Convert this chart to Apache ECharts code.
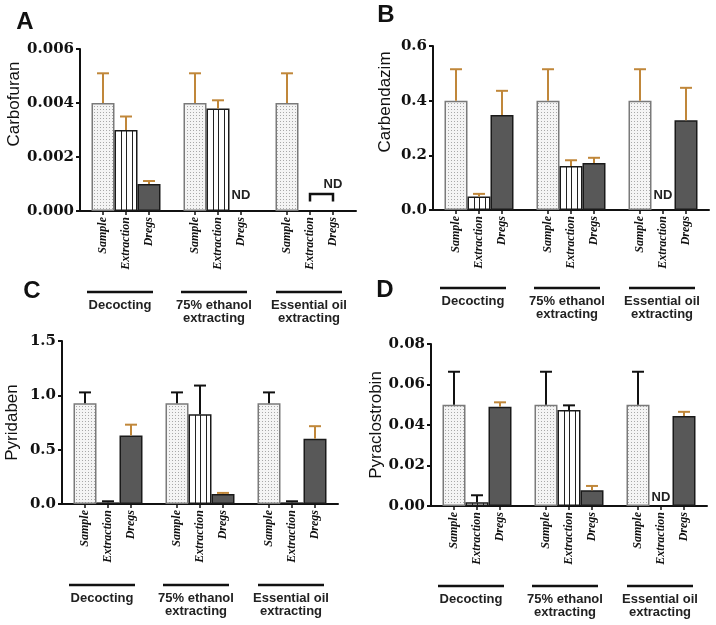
<!DOCTYPE html>
<html>
<head>
<meta charset="utf-8">
<script src="https://cdn.jsdelivr.net/npm/echarts@6/dist/echarts.min.js"></script>
<style>
  html, body { margin: 0; padding: 0; background: #fff; }
  #chart { width: 716px; height: 625px; }
</style>
</head>
<body>
<div id="chart"></div>
<script>
// x slots: blank, 3 bars, blank, 3 bars, blank, 3 bars, blank
const slotNames = ['', 'Sample', 'Extraction', 'Dregs', '', 'Sample', 'Extraction', 'Dregs', '', 'Sample', 'Extraction', 'Dregs', ''];
const groupNames = ['Decocting', '75% ethanol\nextracting', 'Essential oil\nextracting'];
const barKinds = ['Sample', 'Extraction', 'Dregs'];

// order: Sample, Extraction, Dregs for each of the 3 groups; null = ND
const carbofuranMean = [0.004, 0.003, 0.001, 0.004, 0.0038, null, 0.004, null, null];
const carbofuranErr = [0.0011, 0.0005, 0.00011, 0.0011, 0.0003, null, 0.0011, null, null];
const carbofuranErrColor = ['o', 'o', 'o', 'o', 'o', '', 'o', '', ''];

const carbendazimMean = [0.4, 0.049, 0.348, 0.4, 0.161, 0.172, 0.4, null, 0.328];
const carbendazimErr = [0.115, 0.01, 0.088, 0.115, 0.021, 0.019, 0.115, null, 0.119];
const carbendazimErrColor = ['o', 'o', 'o', 'o', 'o', 'o', 'o', '', 'o'];

const pyridabenMean = [0.927, 0.015, 0.63, 0.927, 0.826, 0.092, 0.927, 0.015, 0.60];
const pyridabenErr = [0.1, 0.01, 0.1, 0.1, 0.264, 0.01, 0.1, 0.01, 0.116];
const pyridabenErrColor = ['k', 'k', 'o', 'k', 'k', 'o', 'k', 'k', 'o'];

const pyraclostrobinMean = [0.05, 0.0018, 0.049, 0.05, 0.0474, 0.0078, 0.05, null, 0.0444];
const pyraclostrobinErr = [0.0163, 0.0035, 0.0022, 0.0163, 0.0023, 0.0021, 0.0163, null, 0.0021];
const pyraclostrobinErrColor = ['k', 'k', 'o', 'k', 'k', 'o', 'k', '', 'o'];

// "ND" notes: [slot, y value]
const carbofuranND = [[7.25, 0.00057], [10.5, 0.00097]];
const carbendazimND = [[10, 0.052]];
const pyraclostrobinND = [[10, 0.0043]];
// bracket under ND in carbofuran: [slotFrom, slotTo, yTop, yBottom]
const carbofuranBracket = [[10, 11, 0.00063, 0.00035]];

const yMax = [0.006, 0.6, 1.5, 0.08];
const yStep = [0.002, 0.2, 0.5, 0.02];
const yDigits = [3, 1, 1, 2];
const yNames = ['Carbofuran', 'Carbendazim', 'Pyridaben', 'Pyraclostrobin'];
const letters = ['A', 'B', 'C', 'D'];

const panels = [
  { left: 80,  top: 49,  height: 162, lineY: 292, lx: 25,  ly: 22,  nameGap: 55, namePad: 52 },
  { left: 433, top: 46,  height: 164, lineY: 288, lx: 386, ly: 15,  nameGap: 39, namePad: 52 },
  { left: 62,  top: 341, height: 163, lineY: 585, lx: 32,  ly: 291, nameGap: 41, namePad: 0 },
  { left: 431, top: 344, height: 162, lineY: 586, lx: 385, ly: 290, nameGap: 40, namePad: 0 }
];
const plotW = 276; // 12 slot steps of 23 px
const groupLine = [[7, 73], [101, 167], [196, 262]];

const means = [carbofuranMean, carbendazimMean, pyridabenMean, pyraclostrobinMean];
const errs = [carbofuranErr, carbendazimErr, pyridabenErr, pyraclostrobinErr];
const errColors = [carbofuranErrColor, carbendazimErrColor, pyridabenErrColor, pyraclostrobinErrColor];
const ndNotes = [carbofuranND, carbendazimND, [], pyraclostrobinND];
const brackets = [carbofuranBracket, [], [], []];

const ORANGE = '#c0873a';

function slotOf(i) { return 1 + Math.floor(i / 3) * 4 + (i % 3); }

function dotPattern() {
  const c = document.createElement('canvas');
  c.width = 3; c.height = 3;
  const g = c.getContext('2d');
  g.fillStyle = '#f4f4f4';
  g.fillRect(0, 0, 3, 3);
  g.fillStyle = '#a8a8a8';
  g.fillRect(1, 1, 1, 1);
  return c;
}
function stripePattern() {
  const c = document.createElement('canvas');
  c.width = 23; c.height = 4;
  const g = c.getContext('2d');
  g.fillStyle = '#ffffff';
  g.fillRect(0, 0, 23, 4);
  g.fillStyle = '#222222';
  [0, 6, 11, 17].forEach(x => g.fillRect(x, 0, 1, 4));
  return c;
}
const dotsImg = dotPattern();
const stripesImg = stripePattern();

let grid = [], xAxis = [], yAxis = [], series = [], graphic = [];

panels.forEach((p, k) => {
  grid.push({ left: p.left, top: p.top, width: plotW, height: p.height });
  xAxis.push({
    type: 'category', gridIndex: k, data: slotNames, boundaryGap: false,
    axisLine: { lineStyle: { color: '#111', width: 2 } },
    axisTick: { show: true, length: 4, interval: (i, v) => v !== '', lineStyle: { color: '#111', width: 1.5 } },
    axisLabel: {
      interval: 0, rotate: 90, margin: 6, color: '#111',
      fontFamily: 'Liberation Serif', fontStyle: 'italic', fontWeight: 'bold', fontSize: 12
    },
    splitLine: { show: false }
  });
  yAxis.push({
    type: 'value', gridIndex: k, min: 0, max: yMax[k], interval: yStep[k],
    name: yNames[k], nameLocation: 'middle', nameGap: p.nameGap,
    nameTextStyle: { fontFamily: 'Arial', fontSize: 17, color: '#111', padding: [0, 0, 0, p.namePad] },
    axisLine: { show: true, lineStyle: { color: '#111', width: 2 } },
    axisTick: { show: true, length: 4, lineStyle: { color: '#111', width: 2 } },
    axisLabel: {
      margin: 6, color: '#111', fontFamily: 'DejaVu Serif', fontWeight: 'bold', fontSize: 15,
      formatter: v => v.toFixed(yDigits[k])
    },
    splitLine: { show: false }
  });

  // bars: one series per bar kind, overlapping in the same band
  barKinds.forEach((kind, j) => {
    const data = slotNames.map(() => null);
    means[k].forEach((v, i) => { if (i % 3 === j && v !== null) data[slotOf(i)] = v; });
    let itemStyle;
    if (j === 0) {
      itemStyle = { color: { image: dotsImg, repeat: 'repeat' }, borderColor: '#7a7a7a', borderWidth: 1.5 };
    } else if (j === 1) {
      itemStyle = { color: { image: stripesImg, repeat: 'repeat', x: p.left + 35, y: 0 }, borderColor: '#1a1a1a', borderWidth: 1.5 };
    } else {
      itemStyle = { color: '#585858', borderColor: '#1a1a1a', borderWidth: 1.5 };
    }
    series.push({
      type: 'bar', name: kind, xAxisIndex: k, yAxisIndex: k, data: data,
      barWidth: '100%', barGap: '-100%', itemStyle: itemStyle, z: 2,
      emphasis: { disabled: true }, silent: true
    });
  });

  // error bars (upper only)
  const errData = [];
  means[k].forEach((v, i) => {
    if (v !== null && errs[k][i] !== null) errData.push([slotOf(i), v, errs[k][i], errColors[k][i] === 'o' ? 1 : 0]);
  });
  series.push({
    type: 'custom', xAxisIndex: k, yAxisIndex: k, data: errData, z: 3, silent: true,
    renderItem: (params, api) => {
      const x = api.value(0), v = api.value(1), e = api.value(2);
      const color = api.value(3) === 1 ? ORANGE : '#111';
      const base = api.coord([x, v]);
      const top = api.coord([x, v + e]);
      const half = api.size([1, 0])[0] * 0.26;
      return {
        type: 'group',
        children: [
          { type: 'line', shape: { x1: base[0], y1: base[1], x2: top[0], y2: top[1] }, style: { stroke: color, lineWidth: 2 } },
          { type: 'line', shape: { x1: top[0] - half, y1: top[1], x2: top[0] + half, y2: top[1] }, style: { stroke: color, lineWidth: 2 } }
        ]
      };
    }
  });

  if (brackets[k].length) {
    series.push({
      type: 'custom', xAxisIndex: k, yAxisIndex: k, data: brackets[k], z: 3, silent: true,
      renderItem: (params, api) => {
        const a = api.coord([api.value(0), api.value(3)]);
        const b = api.coord([api.value(0), api.value(2)]);
        const c = api.coord([api.value(1), api.value(2)]);
        const d = api.coord([api.value(1), api.value(3)]);
        return { type: 'polyline', shape: { points: [a, b, c, d] }, style: { stroke: '#111', lineWidth: 2.5, fill: null } };
      }
    });
  }
  if (ndNotes[k].length) {
    series.push({
      type: 'custom', xAxisIndex: k, yAxisIndex: k, data: ndNotes[k], z: 4, silent: true,
      renderItem: (params, api) => {
        const pt = api.coord([api.value(0), api.value(1)]);
        return {
          type: 'text', x: pt[0], y: pt[1],
          style: { text: 'ND', fill: '#222', font: 'bold 13px Arial', textAlign: 'center', textVerticalAlign: 'middle' }
        };
      }
    });
  }

  // group underlines and names
  groupNames.forEach((g, i) => {
    const x1 = p.left + groupLine[i][0], x2 = p.left + groupLine[i][1];
    graphic.push({ type: 'line', shape: { x1: x1, y1: p.lineY, x2: x2, y2: p.lineY }, style: { stroke: '#111', lineWidth: 2.5 }, silent: true });
    graphic.push({
      type: 'text', x: (x1 + x2) / 2, y: p.lineY + 7, silent: true,
      style: { text: g, fill: '#222', font: 'bold 13px Arial', textAlign: 'center', textVerticalAlign: 'top', lineHeight: 13 }
    });
  });
  graphic.push({
    type: 'text', x: p.lx, y: p.ly, silent: true,
    style: { text: letters[k], fill: '#111', font: 'bold 24px Arial', textAlign: 'center', textVerticalAlign: 'middle' }
  });
});

const chart = echarts.init(document.getElementById('chart'));
chart.setOption({
  animation: false,
  backgroundColor: '#fff',
  grid: grid,
  xAxis: xAxis,
  yAxis: yAxis,
  series: series,
  graphic: graphic
});
</script>
</body>
</html>
